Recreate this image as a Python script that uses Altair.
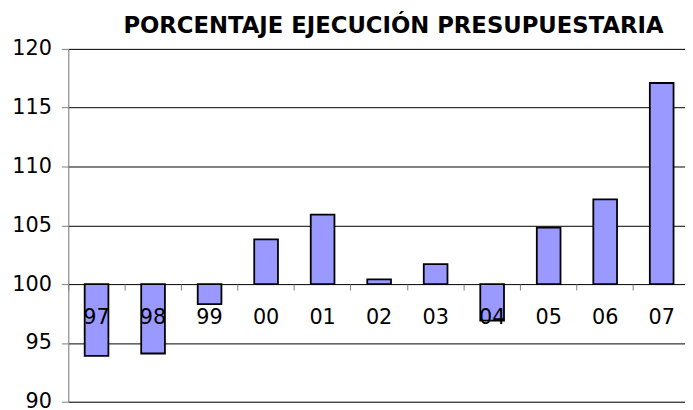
import altair as alt
import pandas as pd

years = ["97", "98", "99", "00", "01", "02", "03", "04", "05", "06", "07"]
values = [93.9, 94.1, 98.3, 103.8, 105.9, 100.4, 101.7, 96.9, 104.8, 107.2, 117.1]
y_ticks = [90, 95, 100, 105, 110, 115, 120]
title_text = "PORCENTAJE EJECUCIÓN PRESUPUESTARIA"

df = pd.DataFrame({"year": years, "value": values})

FONT = "DejaVu Sans"

chart = (
    alt.Chart(df)
    .mark_bar(size=24, fill="#9999FF", stroke="black", strokeWidth=1.8)
    .encode(
        x=alt.X(
            "year:N",
            sort=years,
            scale=alt.Scale(range=[0, 629], paddingInner=0, paddingOuter=0),
            axis=alt.Axis(
                title=None,
                labelAngle=0,
                domain=False,
                grid=False,
                ticks=True,
                tickColor="#808080",
                tickSize=6,
                tickWidth=1,
                bandPosition=0,
                labelFont=FONT,
                labelFontSize=21,
                labelColor="black",
                labelPadding=17,
                offset=-119,
                zindex=1,
            ),
        ),
        y=alt.Y(
            "value:Q",
            scale=alt.Scale(domain=[90, 120], nice=False, zero=False),
            axis=alt.Axis(
                title=None,
                values=y_ticks,
                grid=True,
                gridColor="black",
                gridWidth=1,
                gridOpacity=1,
                domain=True,
                domainColor="#808080",
                domainWidth=1,
                ticks=True,
                tickColor="#808080",
                tickSize=7,
                labelFont=FONT,
                labelFontSize=21,
                labelColor="black",
                labelPadding=10,
            ),
        ),
        y2=alt.datum(100),
    )
    .properties(
        width=624,
        height=357,
        title=alt.TitleParams(
            text=title_text,
            font=FONT,
            fontSize=23,
            fontWeight="bold",
            color="black",
            anchor="middle",
            frame="group",
            dx=17,
            offset=0,
        ),
        autosize=alt.AutoSizeParams(type="none"),
        padding={"left": 61, "top": 39, "right": 0, "bottom": 6},
    )
    .configure_view(stroke=None)
    .configure(background="white")
)

chart.save("out.html", embed_options={"renderer": "svg", "actions": False})
